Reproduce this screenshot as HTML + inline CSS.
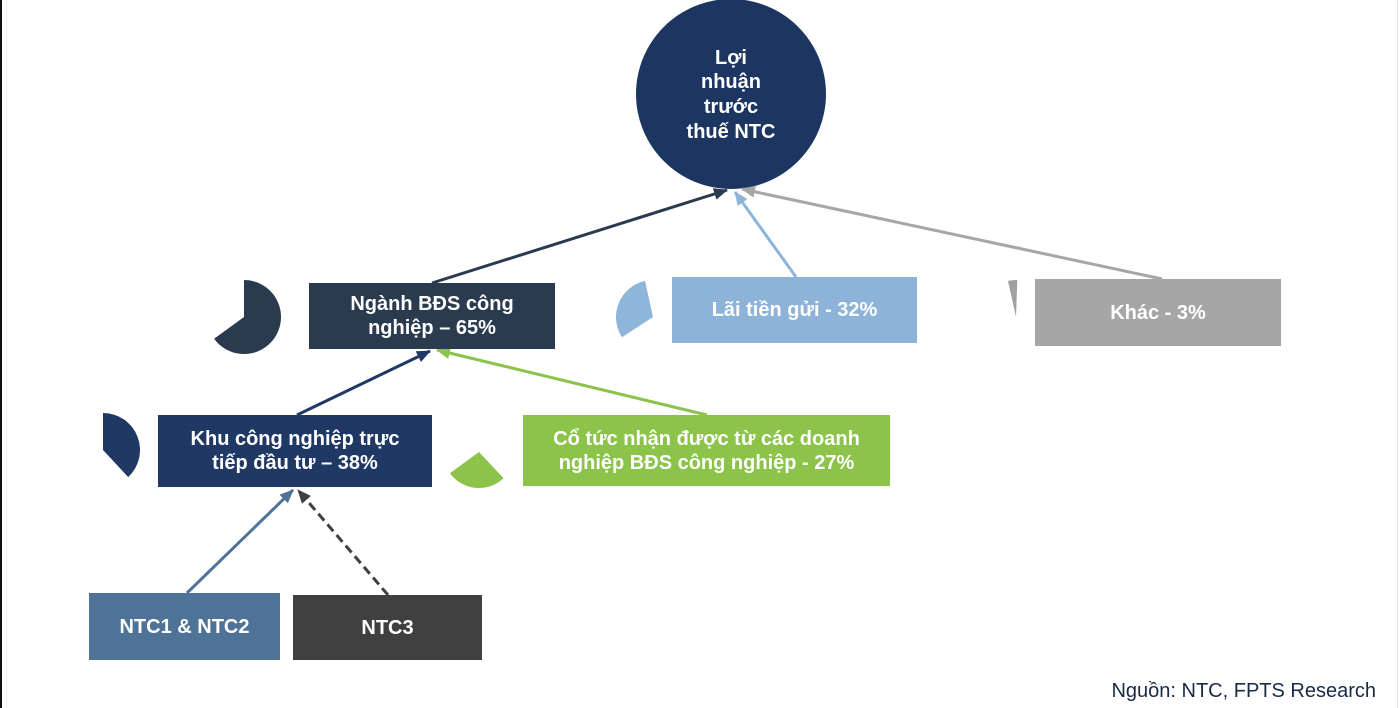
<!DOCTYPE html>
<html>
<head>
<meta charset="utf-8">
<style>
  html,body{margin:0;padding:0;}
  body{width:1399px;height:708px;position:relative;background:#ffffff;overflow:hidden;font-family:"Liberation Sans",Arial,sans-serif;}
  .box{position:absolute;display:flex;align-items:center;justify-content:center;text-align:center;color:#ffffff;font-weight:bold;font-size:20px;line-height:24px;box-sizing:border-box;}
  svg{position:absolute;left:0;top:0;}
  .src{position:absolute;right:23px;top:680px;font-size:20px;color:#1a2a44;white-space:nowrap;}
</style>
</head>
<body>
<svg width="1399" height="708" viewBox="0 0 1399 708">
  <defs>
    <marker id="mDark" markerUnits="userSpaceOnUse" markerWidth="14" markerHeight="12" refX="13" refY="6" orient="auto"><path d="M0,0 L14,6 L0,12 z" fill="#2a3b50"/></marker>
    <marker id="mNavy" markerUnits="userSpaceOnUse" markerWidth="14" markerHeight="12" refX="13" refY="6" orient="auto"><path d="M0,0 L14,6 L0,12 z" fill="#1f3864"/></marker>
    <marker id="mLBlue" markerUnits="userSpaceOnUse" markerWidth="14" markerHeight="12" refX="13" refY="6" orient="auto"><path d="M0,0 L14,6 L0,12 z" fill="#8db4da"/></marker>
    <marker id="mGray" markerUnits="userSpaceOnUse" markerWidth="14" markerHeight="12" refX="13" refY="6" orient="auto"><path d="M0,0 L14,6 L0,12 z" fill="#a6a6a6"/></marker>
    <marker id="mGreen" markerUnits="userSpaceOnUse" markerWidth="14" markerHeight="12" refX="13" refY="6" orient="auto"><path d="M0,0 L14,6 L0,12 z" fill="#8cc34b"/></marker>
    <marker id="mSteel" markerUnits="userSpaceOnUse" markerWidth="14" markerHeight="12" refX="13" refY="6" orient="auto"><path d="M0,0 L14,6 L0,12 z" fill="#4f7397"/></marker>
    <marker id="mBlack" markerUnits="userSpaceOnUse" markerWidth="14" markerHeight="12" refX="13" refY="6" orient="auto"><path d="M0,0 L14,6 L0,12 z" fill="#404040"/></marker>
  </defs>

  <!-- page borders -->
  <rect x="0" y="0" width="2" height="708" fill="#111"/>
  <rect x="6" y="0" width="1" height="708" fill="#f0f0f0"/>
  <rect x="1397" y="0" width="1" height="708" fill="#e8e8e8"/>

  <!-- main circle -->
  <circle cx="731" cy="94" r="95" fill="#1c3661"/>

  <!-- wedges -->
  <path d="M244,317 L244,280 A37,37 0 1 1 214.1,338.8 Z" fill="#2a3b50"/>
  <path d="M653,317 L645,280.9 A37,37 0 0 0 622,337.2 Z" fill="#8fb5da"/>
  <path d="M1016,317 L1008,280.9 A37,37 0 0 1 1017.3,280 Z" fill="#a0a0a0"/>
  <path d="M103,450 L103,413 A37,37 0 0 1 128.2,477.1 Z" fill="#1f3864"/>
  <path d="M479,452 L503.6,478.3 A36,36 0 0 1 449.9,473.2 Z" fill="#8cc34b"/>

  <!-- connectors -->
  <line x1="432" y1="283" x2="727" y2="190" stroke="#2a3b50" stroke-width="3" marker-end="url(#mDark)"/>
  <line x1="796" y1="277" x2="735" y2="192" stroke="#8db4da" stroke-width="3" marker-end="url(#mLBlue)"/>
  <line x1="1162" y1="279" x2="742" y2="189" stroke="#a6a6a6" stroke-width="3" marker-end="url(#mGray)"/>
  <line x1="297" y1="415" x2="430" y2="351" stroke="#1f3864" stroke-width="3" marker-end="url(#mNavy)"/>
  <line x1="707" y1="415" x2="437" y2="350" stroke="#8cc34b" stroke-width="3" marker-end="url(#mGreen)"/>
  <line x1="187" y1="593" x2="293" y2="490" stroke="#4f7397" stroke-width="3" marker-end="url(#mSteel)"/>
  <line x1="388" y1="595" x2="298" y2="490" stroke="#404040" stroke-width="3" stroke-dasharray="9,5" marker-end="url(#mBlack)"/>

  <!-- circle text -->
  <g font-family="Liberation Sans, Arial, sans-serif" font-weight="bold" font-size="20" fill="#ffffff" text-anchor="middle">
    <text x="731" y="64">Lợi</text>
    <text x="731" y="88">nhuận</text>
    <text x="731" y="113">trước</text>
    <text x="731" y="138">thuế NTC</text>
  </g>
</svg>

<div class="box" style="left:309px;top:283px;width:246px;height:66px;background:#2a3b50;">Ngành BĐS công<br>nghiệp – 65%</div>
<div class="box" style="left:672px;top:277px;width:245px;height:66px;background:#8db3d9;">Lãi tiền gửi - 32%</div>
<div class="box" style="left:1035px;top:279px;width:246px;height:67px;background:#a6a6a6;">Khác - 3%</div>
<div class="box" style="left:158px;top:415px;width:274px;height:72px;background:#1f3864;">Khu công nghiệp trực<br>tiếp đầu tư – 38%</div>
<div class="box" style="left:523px;top:415px;width:367px;height:71px;background:#8cc34b;">Cổ tức nhận được từ các doanh<br>nghiệp BĐS công nghiệp - 27%</div>
<div class="box" style="left:89px;top:593px;width:191px;height:67px;background:#4f7397;">NTC1 &amp; NTC2</div>
<div class="box" style="left:293px;top:595px;width:189px;height:65px;background:#404040;">NTC3</div>

<div class="src">Nguồn: NTC, FPTS Research</div>
</body>
</html>
